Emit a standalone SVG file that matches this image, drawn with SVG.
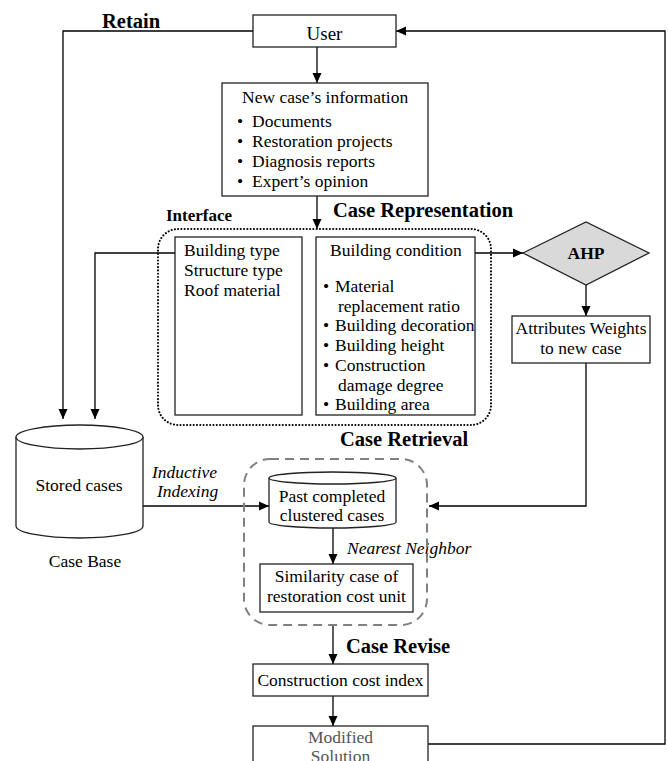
<svg xmlns="http://www.w3.org/2000/svg" width="668" height="761" viewBox="0 0 668 761" font-family="'Liberation Serif', serif" font-size="17.5">
<style>
.box{fill:#fff;stroke:#222;stroke-width:1.3}
.ln{fill:none;stroke:#000;stroke-width:1.3}
</style>
<defs>
<marker id="ah" viewBox="0 0 10 10" refX="10" refY="5" markerWidth="10" markerHeight="10" markerUnits="userSpaceOnUse" orient="auto">
<path d="M0,0.5 L10,5 L0,9.5 Z" fill="#000"/>
</marker>
</defs>
<rect width="668" height="761" fill="#fff"/>

<g id="connectors">
<polyline class="ln" points="253,31 63,31 63,419" marker-end="url(#ah)"/>
<polyline class="ln" points="175,253 95,253 95,419" marker-end="url(#ah)"/>
<line class="ln" x1="317" y1="47" x2="317" y2="83" marker-end="url(#ah)"/>
<line class="ln" x1="317" y1="196" x2="317" y2="229" marker-end="url(#ah)"/>
<line class="ln" x1="475" y1="253" x2="523" y2="253" marker-end="url(#ah)"/>
<line class="ln" x1="586" y1="285" x2="586" y2="316" marker-end="url(#ah)"/>
<polyline class="ln" points="586,363 586,506 429,506" marker-end="url(#ah)"/>
<line class="ln" x1="143" y1="506" x2="269" y2="506" marker-end="url(#ah)"/>
<line class="ln" x1="333" y1="528" x2="333" y2="564" marker-end="url(#ah)"/>
<line class="ln" x1="333" y1="625" x2="333" y2="664" marker-end="url(#ah)"/>
<line class="ln" x1="333" y1="696" x2="333" y2="726" marker-end="url(#ah)"/>
<polyline class="ln" points="428,744 665,744 665,31 396,31" marker-end="url(#ah)"/>
</g>

<g id="labels">
<text x="102" y="28" font-size="20.5" font-weight="bold">Retain</text>
<text x="333" y="217" font-size="20.5" font-weight="bold">Case Representation</text>
<text x="166" y="221" font-size="17" font-weight="bold">Interface</text>
<text x="340" y="446" font-size="20.5" font-weight="bold">Case Retrieval</text>
<text x="346" y="653" font-size="20.5" font-weight="bold">Case Revise</text>
<text x="152" y="478" font-style="italic">Inductive</text>
<text x="157" y="497" font-style="italic">Indexing</text>
<text x="347" y="554" font-style="italic">Nearest Neighbor</text>
</g>

<g id="user">
<rect class="box" x="253" y="15" width="143" height="32"/>
<text x="324.5" y="40" font-size="19" text-anchor="middle">User</text>
</g>

<g id="newcase">
<rect class="box" x="222" y="83" width="206" height="113"/>
<text x="242" y="103">New case’s information</text>
<text><tspan x="237" y="127">•</tspan><tspan x="252" y="127">Documents</tspan></text>
<text><tspan x="237" y="147">•</tspan><tspan x="252" y="147">Restoration projects</tspan></text>
<text><tspan x="237" y="167">•</tspan><tspan x="252" y="167">Diagnosis reports</tspan></text>
<text><tspan x="237" y="187">•</tspan><tspan x="252" y="187">Expert’s opinion</tspan></text>
</g>

<g id="interface">
<rect x="158" y="229" width="333" height="196" rx="20" fill="none" stroke="#000" stroke-width="2" stroke-dasharray="0.1 3.2" stroke-linecap="round"/>
</g>

<g id="buildingtype">
<rect class="box" x="175" y="237" width="127" height="178"/>
<text x="184" y="256">Building type</text>
<text x="184" y="276">Structure type</text>
<text x="184" y="296">Roof material</text>
</g>

<g id="buildingcondition">
<rect class="box" x="316" y="237" width="159" height="178"/>
<text x="330" y="256">Building condition</text>
<text><tspan x="323" y="292">•</tspan><tspan x="335" y="292">Material</tspan></text>
<text x="338" y="311.7">replacement ratio</text>
<text><tspan x="323" y="331.4">•</tspan><tspan x="335" y="331.4">Building decoration</tspan></text>
<text><tspan x="323" y="351.1">•</tspan><tspan x="335" y="351.1">Building height</tspan></text>
<text><tspan x="323" y="370.8">•</tspan><tspan x="335" y="370.8">Construction</tspan></text>
<text x="338" y="390.5">damage degree</text>
<text><tspan x="323" y="410.2">•</tspan><tspan x="335" y="410.2">Building area</tspan></text>
</g>

<g id="ahp">
<polygon points="523,253 586,222 649,253 586,285" fill="#d9d9d9" stroke="#222" stroke-width="1.3"/>
<text x="586" y="259" font-weight="bold" text-anchor="middle">AHP</text>
</g>

<g id="weights">
<rect class="box" x="512" y="316" width="138" height="47"/>
<text x="581" y="334" text-anchor="middle">Attributes Weights</text>
<text x="581" y="354" text-anchor="middle">to new case</text>
</g>

<g id="storedcases">
<path d="M16,437 L16,526 A63.5,12 0 0 0 143,526 L143,437" fill="#fff" stroke="#222" stroke-width="1.3"/>
<ellipse cx="79.5" cy="437" rx="63.5" ry="12" fill="#fff" stroke="#222" stroke-width="1.3"/>
<text x="79" y="491" text-anchor="middle">Stored cases</text>
<text x="85" y="567" text-anchor="middle">Case Base</text>
</g>

<g id="retrieval">
<rect x="244" y="459" width="183" height="166" rx="26" fill="none" stroke="#808080" stroke-width="2" stroke-dasharray="9 6"/>
</g>

<g id="pastcases">
<path d="M269,478 L269,522 A63.5,6 0 0 0 396,522 L396,478" fill="#fff" stroke="#222" stroke-width="1.3"/>
<ellipse cx="332.5" cy="478" rx="63.5" ry="6" fill="#fff" stroke="#222" stroke-width="1.3"/>
<text x="332" y="502" text-anchor="middle">Past completed</text>
<text x="332" y="521" text-anchor="middle">clustered cases</text>
</g>

<g id="similarity">
<rect class="box" x="260" y="564" width="153" height="48"/>
<text x="336.5" y="582" text-anchor="middle">Similarity case of</text>
<text x="336.5" y="602" text-anchor="middle">restoration cost unit</text>
</g>

<g id="costindex">
<rect class="box" x="253" y="664" width="175" height="32"/>
<text x="340.5" y="686" text-anchor="middle">Construction cost index</text>
</g>

<g id="modified">
<rect class="box" x="253" y="726" width="175" height="60"/>
<text x="340.5" y="743" text-anchor="middle" fill="#555">Modified</text>
<text x="340.5" y="762" text-anchor="middle" fill="#555">Solution</text>
</g>
</svg>
